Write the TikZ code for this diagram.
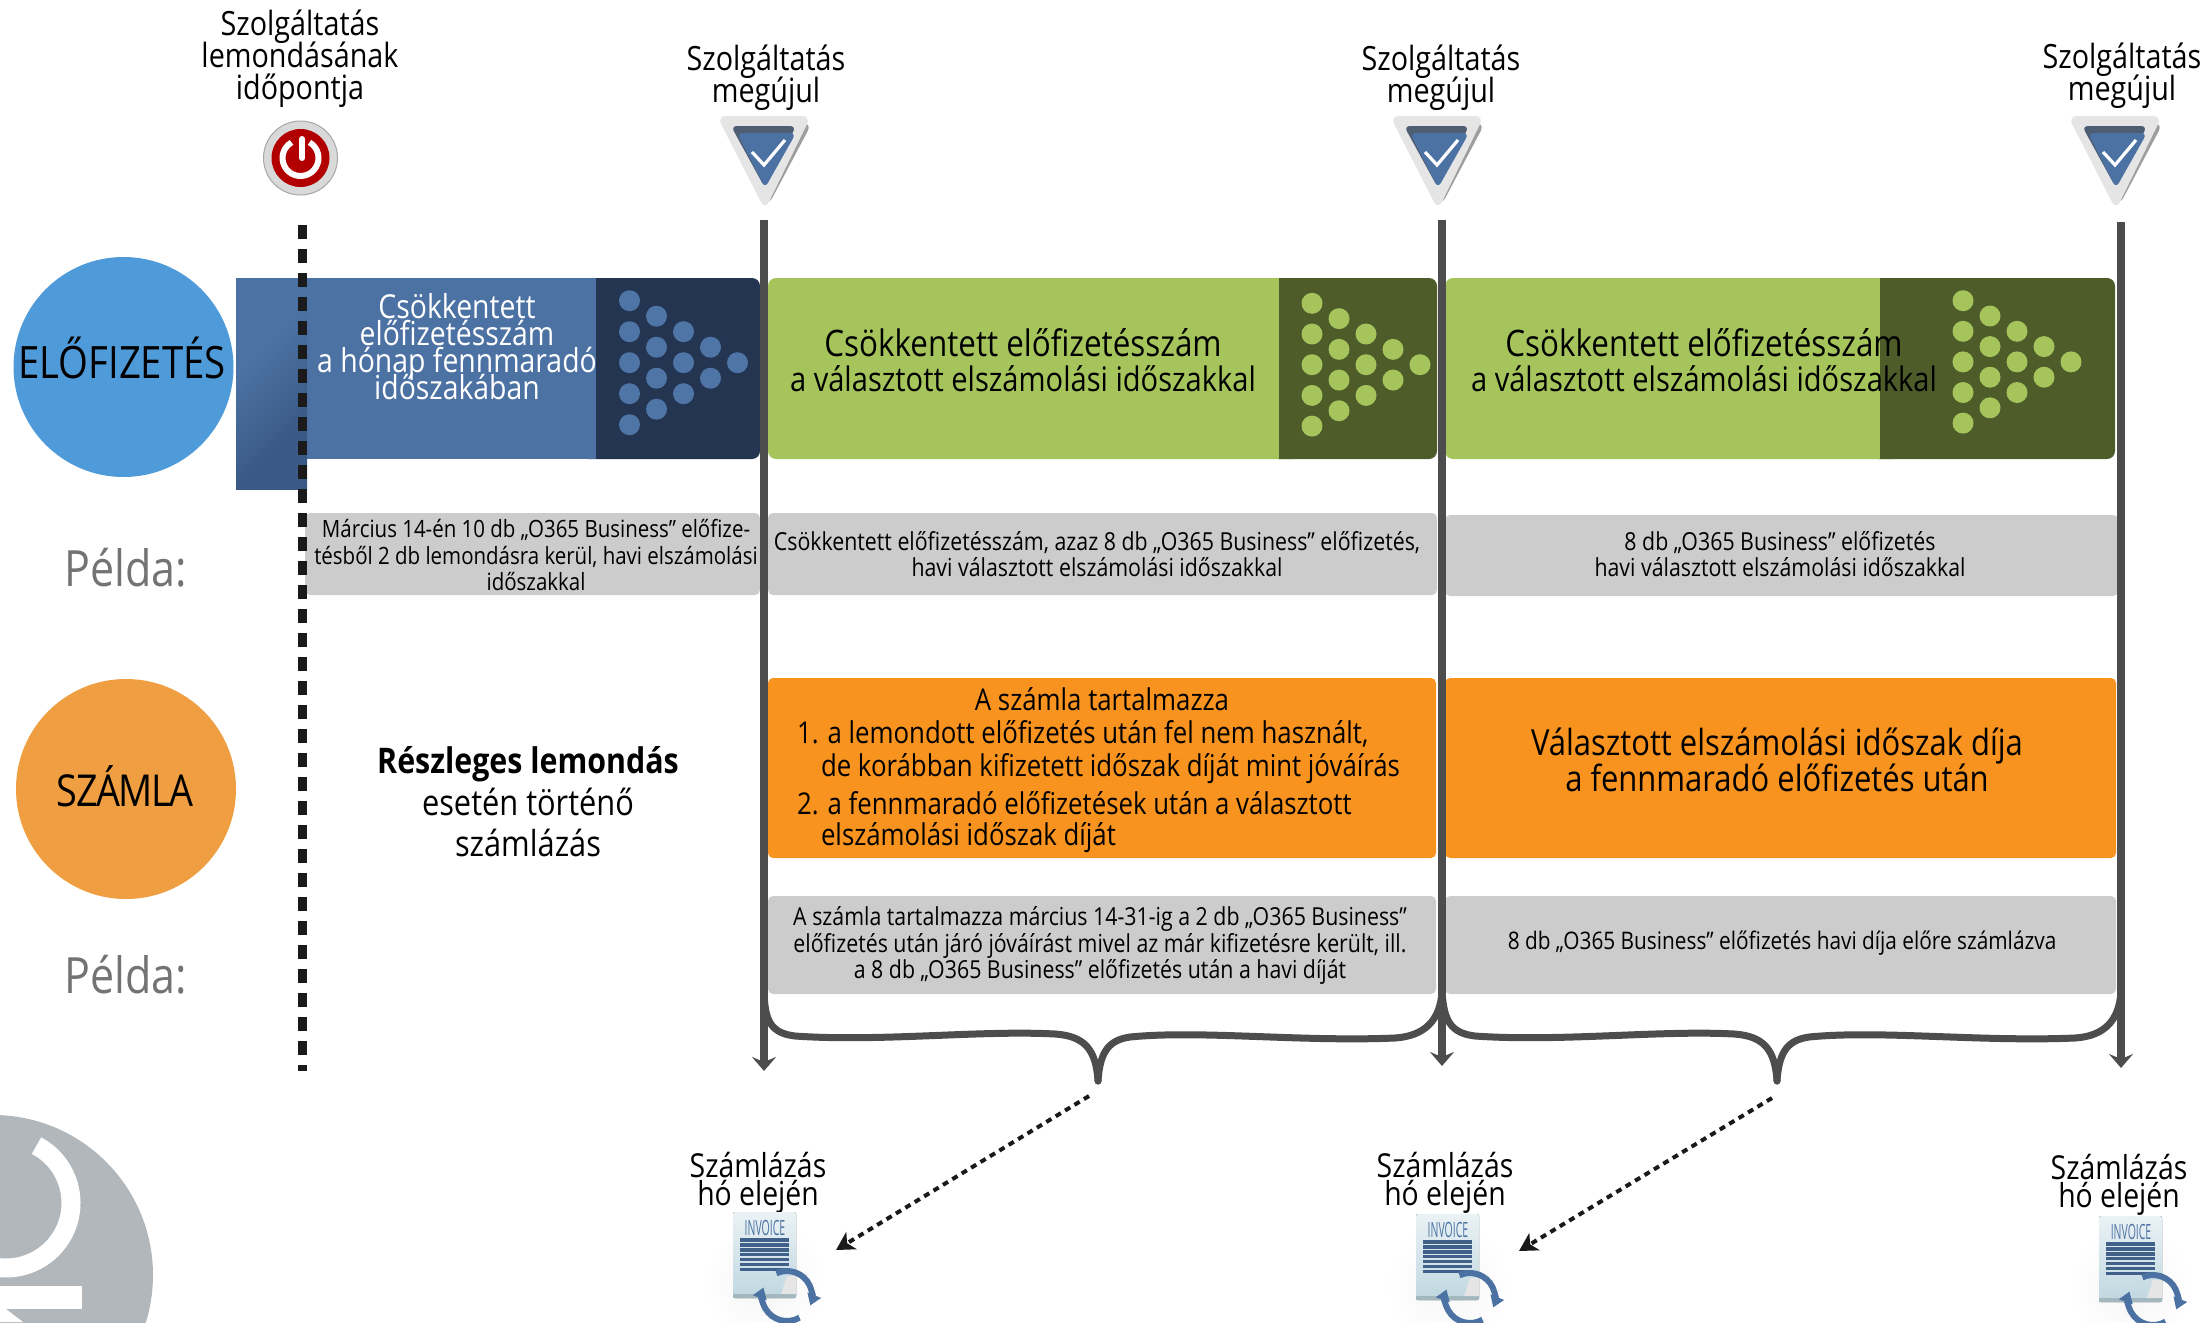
\documentclass[tikz,border=0pt]{standalone}
\usepackage{fontspec}
\usetikzlibrary{arrows.meta,positioning,calc}
\setmainfont[FakeStretch=0.86]{Open Sans}
\newfontfamily\invfont[FakeStretch=0.5]{Open Sans}
\definecolor{bluebar}{HTML}{4C72A4}
\definecolor{bluedark}{HTML}{233550}
\definecolor{bluedot}{HTML}{4F74A6}
\definecolor{greenbar}{HTML}{A5C55C}
\definecolor{greendark}{HTML}{4E5C2A}
\definecolor{greydark}{HTML}{4D4D4D}
\definecolor{boxgrey}{HTML}{CCCCCC}
\definecolor{orangebox}{HTML}{F9931F}
\definecolor{circblue}{HTML}{4F9AD8}
\definecolor{circorange}{HTML}{EF9F41}
\definecolor{logogrey}{HTML}{B2B7BB}
\definecolor{darkline}{HTML}{1A1A1A}
\definecolor{doctop}{HTML}{EAF2F5}
\definecolor{docbot}{HTML}{BFD7E0}
\definecolor{tabdark}{HTML}{3A5A85}
\pgfdeclareverticalshading{tabshadev}{100bp}{color(0bp)=(tabdark); color(32bp)=(tabdark); color(62bp)=(bluebar); color(100bp)=(bluebar)}
\newcommand{\fsz}[2]{\fontsize{#1pt}{#2pt}\selectfont\lineskiplimit=-100pt }
\tikzset{
  txt/.style={inner sep=0pt,outer sep=0pt,align=center,text=black},
  head/.style={txt,font=\fsz{33.4}{32}},
  billhead/.style={txt,font=\fsz{33}{28}},
  small/.style={txt,font=\fsz{24.8}{26.5}},
  large/.style={txt,font=\fsz{33.2}{35.5}},
  orangeline/.style={txt,font=\fsz{30}{30},anchor=west},
  greybox/.style={fill=boxgrey,rounded corners=5pt},
  timeline/.style={draw=greydark,line width=8pt,-{Stealth[length=14pt,width=24pt,inset=5pt]}},
  cancelline/.style={draw=darkline,line width=9pt,dash pattern=on 14pt off 10pt},
  bracepath/.style={draw=greydark,line width=7pt,line cap=round},
  billarrow/.style={draw=darkline,line width=4pt,dash pattern=on 6pt off 5pt,-{Stealth[length=18pt,width=20pt,inset=5pt]}},
  dotb/.style={fill=bluedot},
  dotg/.style={fill=greenbar},
  refresh/.style={draw=bluebar,line width=6pt,-{Stealth[length=11pt,width=14pt,inset=0pt]}},
}
\newcommand{\dotarrow}[5]{%
  \foreach \c/\first/\n in {0/0/4,1/1/3,2/2/2,3/3/1,4/4/0}{%
    \foreach \k in {0,...,\n}{%
      \fill[#1] ({#2+\c*#3},{#4+(\first+2*\k)*#5}) circle[radius=10.5pt];
    }%
  }%
}
\newcommand{\shieldicon}[2]{%
  \begin{scope}[shift={(#1,#2)}]
    \fill[black!38,rounded corners=9pt] (-40,3) -- (47,3) -- (3,86) -- cycle;
    \fill[black!10,rounded corners=9pt] (-48,-4) -- (46,-4) -- (0,90) -- cycle;
    \fill[bluedark!80,rounded corners=6pt] (-34,6) -- (31,6) -- (0,68) -- cycle;
    \fill[bluebar,rounded corners=6pt] (-28,13) -- (31,13) -- (0,68) -- cycle;
    \draw[white,line width=3.2pt] (-13,32) -- (-1,45) -- (20,20);
  \end{scope}%
}
\newcommand{\invoiceicon}[3]{%
  \begin{scope}[shift={(#1,#2)}]
    \shade[inner color=black!4,outer color=white,draw=none] (32,70) circle[radius=62pt];
    \fill[top color=doctop,bottom color=docbot,rounded corners=2pt] (0,0) rectangle (63,86);
    \fill[docbot!85!black] (0,82) rectangle (63,86);
    \node[inner sep=0pt,text=bluebar,font=\invfont\fsz{21}{21}] (#3) at (32,16) {INVOICE};
    \foreach \r in {0,...,6}{\fill[bluebar!85!black] (7,{26+\r*4.95}) rectangle (56,{29.6+\r*4.95});}
    \fill[black!10] (48,82) -- (63,82) -- (63,64) -- (54,64) -- cycle;
    \coordinate (rc) at (54,84);
    \draw[refresh] (rc) ++(115:25pt) arc (115:-22:25pt);
    \draw[refresh] (rc) ++(-60:25pt) arc (-60:-200:25pt);
  \end{scope}%
}
\begin{document}
\begin{tikzpicture}[x=1pt,y=-1pt]
\useasboundingbox (0,0) rectangle (2202,1322);

% logo
\begin{scope}
\clip (0,1100) rectangle (200,1322);
\fill[logogrey] (-7,1275) circle[radius=160pt];
\draw[white,line width=19pt] (6,1203) ++(62:65pt) arc (62:-96:65pt);
\fill[white] (0,1286) rectangle (81.5,1309);
\fill[white] (0,1309) -- (6,1309) -- (23,1322) -- (0,1322) -- cycle;
\end{scope}

% circles
\node[circle,fill=circblue,minimum size=220pt,inner sep=0pt] (subc) at (123.5,367) {};
\node[circle,fill=circorange,minimum size=220pt,inner sep=0pt] (billc) at (126,789) {};
\node[txt,font=\fsz{44.6}{44}] (subt) at (122,358) {ELŐFIZETÉS};
\node[txt,font=\fsz{44}{44}] (billt) at (125,786) {\addfontfeature{LetterSpace=-3.5}SZÁMLA};
\node[txt,text=black!55,font=\fsz{50}{50}] (ex1) at (126,568) {Példa:};
\node[txt,text=black!55,font=\fsz{50}{50}] (ex2) at (126,975) {Példa:};

% blue bar
\fill[bluebar] (300,278) rectangle (600,459);
\shade[shading=tabshadev,shading angle=45] (236,278) rectangle (307,489);
\fill[bluedark,rounded corners=8pt] (580,278) rectangle (760,459);
\fill[bluebar] (570,278) rectangle (596,459);
\dotarrow{dotb}{629.5}{27}{300.7}{15.5}
% green bars
\fill[greenbar,rounded corners=8pt] (768,278) rectangle (1300,459);
\fill[greendark,rounded corners=8pt] (1270,278) rectangle (1437,459);
\fill[greenbar] (1250,278) rectangle (1279,459);
\dotarrow{dotg}{1312}{27}{303.3}{15.35}
\fill[greenbar,rounded corners=8pt] (1445,278) rectangle (1900,459);
\fill[greendark,rounded corners=8pt] (1870,278) rectangle (2115,459);
\fill[greenbar] (1850,278) rectangle (1880,459);
\dotarrow{dotg}{1963}{27}{300.7}{15.3}

\node[txt,text=white,font=\fsz{33}{27}] (bluet) at (457,347) {Csökkentett\\előfizetésszám\\a hónap fennmaradó\\időszakában};
\node[large] (g1t) at (1023,360) {\fsz{36.5}{35.5}Csökkentett előfizetésszám\\\fsz{33.8}{35.5}a választott elszámolási időszakkal};
\node[large] (g2t) at (1704,360) {\fsz{36.5}{35.5}Csökkentett előfizetésszám\\\fsz{33.8}{35.5}a választott elszámolási időszakkal};

% grey boxes row 1
\fill[greybox] (305,513) rectangle (760,595);
\fill[greybox] (768,513) rectangle (1437,595);
\fill[greybox] (1445,515) rectangle (2118,596);
\node[small,font=\fsz{23.8}{26.5}] (e1) at (536,555) {Március 14-én 10 db „O365 Business” előfize-\\tésből 2 db lemondásra kerül, havi elszámolási\\időszakkal};
\node[small] (e2) at (1097,554) {Csökkentett előfizetésszám, azaz 8 db „O365 Business” előfizetés,\\havi választott elszámolási időszakkal};
\node[small] (e3) at (1780,554) {8 db „O365 Business” előfizetés\\havi választott elszámolási időszakkal};

% orange boxes
\fill[orangebox,rounded corners=5pt] (768,678) rectangle (1436,858);
\fill[orangebox,rounded corners=5pt] (1445,678) rectangle (2116,858);
\node[txt,font=\fsz{30}{30}] (o0) at (1102,699) {A számla tartalmazza};
\node[orangeline] (o1) at (797,734) {1. a lemondott előfizetés után fel nem használt,};
\node[orangeline] (o2) at (821,769) {de korábban kifizetett időszak díját mint jóváírás};
\node[orangeline] (o3) at (797,803) {2. a fennmaradó előfizetések után a választott};
\node[orangeline] (o4) at (821,838) {elszámolási időszak díját};
\node[large,font=\fsz{36}{35.5}] (o5) at (1777,760) {Választott elszámolási időszak díja\\a fennmaradó előfizetés után};

% grey boxes row 2
\fill[greybox] (768,896) rectangle (1436,994);
\fill[greybox] (1445,896) rectangle (2116,994);
\node[small] (f1) at (1100,945.5) {A számla tartalmazza március 14-31-ig a 2 db „O365 Business”\\előfizetés után járó jóváírást mivel az már kifizetésre került, ill.\\a 8 db „O365 Business” előfizetés után a havi díját};
\node[small,font=\fsz{24.2}{26.5}] (f2) at (1782,943) {8 db „O365 Business” előfizetés havi díja előre számlázva};

\node[txt,font=\fsz{35.8}{41.5}] (partial) at (528,802) {\textbf{\fsz{35.3}{41.5}Részleges lemondás}\\esetén történő\\számlázás};

% timeline
\coordinate (t1a) at (764,220); \coordinate (t1b) at (764,1071);
\coordinate (t2a) at (1442,220); \coordinate (t2b) at (1442,1066);
\coordinate (t3a) at (2121,222); \coordinate (t3b) at (2121,1068);
\coordinate (cxa) at (302,225); \coordinate (cxb) at (302,1071);
\draw[timeline] (t1a) -- (t1b);
\draw[timeline] (t2a) -- (t2b);
\draw[timeline] (t3a) -- (t3b);
\draw[cancelline] (cxa) -- (cxb);

% braces
\coordinate (b1tip) at (1098,1081);
\coordinate (b2tip) at (1777,1081);
\draw[bracepath] (764,992) .. controls (765,1020) and (770,1033) .. (795,1036) .. controls (880,1042) and (980,1030) .. (1055,1034) .. controls (1085,1036) and (1096,1050) .. (b1tip);
\draw[bracepath] (b1tip) .. controls (1100,1050) and (1110,1040) .. (1130,1037) .. controls (1200,1030) and (1300,1042) .. (1395,1038) .. controls (1425,1036) and (1440,1020) .. (1442,992);
\draw[bracepath] (1442,992) .. controls (1444,1020) and (1450,1033) .. (1475,1036) .. controls (1560,1042) and (1660,1030) .. (1734,1034) .. controls (1764,1036) and (1775,1050) .. (b2tip);
\draw[bracepath] (b2tip) .. controls (1779,1050) and (1789,1040) .. (1809,1037) .. controls (1880,1030) and (1980,1042) .. (2075,1038) .. controls (2105,1036) and (2119,1020) .. (2121,992);

% top labels and icons
\node[head] (l0) at (300,59) {Szolgáltatás\\lemondásának\\időpontja};
\node[head] (l1) at (766,78) {Szolgáltatás\\megújul};
\node[head] (l2) at (1441,78) {Szolgáltatás\\megújul};
\node[head] (l3) at (2122,76) {Szolgáltatás\\megújul};

\node[circle,minimum size=74pt,inner sep=0pt,fill=black!15,draw=black!35,line width=1pt] (pw) at (300.5,158) {};
\fill[red!70!black] (pw.center) circle[radius=29pt];
\draw[white,line width=6pt] (pw.center) ++(60:18pt) arc (60:-240:18pt);
\draw[white,line width=6pt,line cap=round] (302,139) -- (302,158);

\shieldicon{765}{120}
\shieldicon{1438}{120}
\shieldicon{2116}{120}

% billing
\node[billhead] (n1) at (758,1183) {Számlázás\\hó elején};
\node[billhead] (n2) at (1445,1183) {Számlázás\\hó elején};
\node[billhead] (n3) at (2119,1185) {Számlázás\\hó elején};
\begin{scope}
\clip (0,0) rectangle (2202,1322);
\invoiceicon{733}{1212}{inv1}
\invoiceicon{1416}{1214}{inv2}
\invoiceicon{2099}{1216}{inv3}
\end{scope}
\coordinate (a1s) at (1089,1096); \coordinate (a1e) at (836,1250);
\coordinate (a2s) at (1772,1098); \coordinate (a2e) at (1519,1251);
\draw[billarrow] (a1s) -- (a1e);
\draw[billarrow] (a2s) -- (a2e);
\end{tikzpicture}
\end{document}
